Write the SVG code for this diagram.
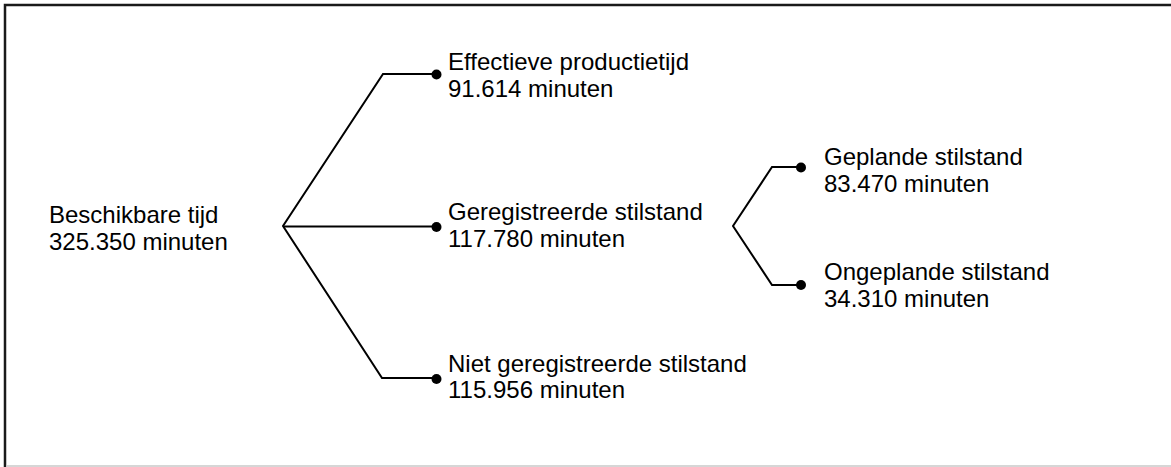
<svg xmlns="http://www.w3.org/2000/svg" width="1171" height="467" viewBox="0 0 1171 467">
  <style>
    .frame { fill: none; stroke: #1a1a1a; stroke-width: 2.5; }
    .frame-faint { fill: none; stroke: #c8c8c8; stroke-width: 1.5; }
    .link { fill: none; stroke: #000; stroke-width: 2; stroke-linejoin: miter; }
    .dot { fill: #000; }
    .label { font-family: "Liberation Sans", Arial, sans-serif; font-size: 24px; fill: #000; }
  </style>
  <rect width="1171" height="467" fill="#fff"/>
  <!-- border -->
  <g id="frame">
    <path class="frame" d="M5,467 V5 H1171"/>
    <path class="frame-faint" d="M6,466 H1171"/>
  </g>
  <!-- connectors -->
  <g id="connectors">
    <path class="link" d="M436.5,74 H383 L283,226 L382,378 H436.5"/>
    <path class="link" d="M283,226.5 H436.5"/>
    <path class="link" d="M801,167 H772 L733,226 L772,285 H801"/>
    <circle class="dot" cx="436.5" cy="74.5" r="5"/>
    <circle class="dot" cx="436.5" cy="227" r="5"/>
    <circle class="dot" cx="436.5" cy="379" r="5"/>
    <circle class="dot" cx="801" cy="167.5" r="5"/>
    <circle class="dot" cx="801" cy="285" r="5"/>
  </g>
  <g id="node-beschikbaar">
    <text class="label" x="49" y="222.5">Beschikbare tijd</text>
    <text class="label" x="49" y="249.5">325.350 minuten</text>
  </g>
  <g id="node-effectief">
    <text class="label" x="448" y="70">Effectieve productietijd</text>
    <text class="label" x="448" y="96.5">91.614 minuten</text>
  </g>
  <g id="node-geregistreerd">
    <text class="label" x="448" y="220">Geregistreerde stilstand</text>
    <text class="label" x="448" y="246.5">117.780 minuten</text>
  </g>
  <g id="node-niet-geregistreerd">
    <text class="label" x="448" y="371.5">Niet geregistreerde stilstand</text>
    <text class="label" x="448" y="398">115.956 minuten</text>
  </g>
  <g id="node-gepland">
    <text class="label" x="824" y="165">Geplande stilstand</text>
    <text class="label" x="824" y="191.5">83.470 minuten</text>
  </g>
  <g id="node-ongepland">
    <text class="label" x="824" y="280">Ongeplande stilstand</text>
    <text class="label" x="824" y="306.5">34.310 minuten</text>
  </g>
</svg>
